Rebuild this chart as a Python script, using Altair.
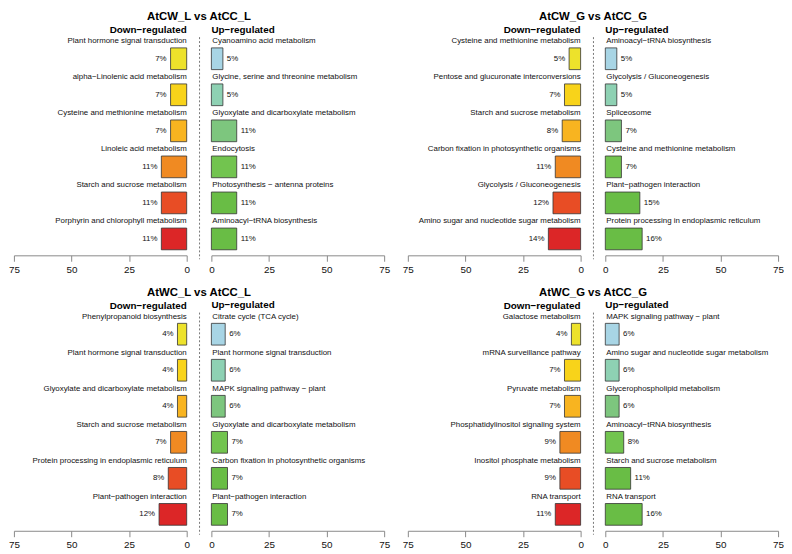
import altair as alt
import pandas as pd

titles = ["AtCW_L vs AtCC_L", "AtCW_G vs AtCC_G", "AtWC_L vs AtCC_L", "AtWC_G vs AtCC_G"]

down_terms_1 = ["Plant hormone signal transduction", "alpha\u2212Linolenic acid metabolism",
                "Cysteine and methionine metabolism", "Linoleic acid metabolism",
                "Starch and sucrose metabolism", "Porphyrin and chlorophyll metabolism"]
down_pct_1 = [7, 7, 7, 11, 11, 11]
up_terms_1 = ["Cyanoamino acid metabolism", "Glycine, serine and threonine metabolism",
              "Glyoxylate and dicarboxylate metabolism", "Endocytosis",
              "Photosynthesis \u2212 antenna proteins", "Aminoacyl\u2212tRNA biosynthesis"]
up_pct_1 = [5, 5, 11, 11, 11, 11]

down_terms_2 = ["Cysteine and methionine metabolism", "Pentose and glucuronate interconversions",
                "Starch and sucrose metabolism", "Carbon fixation in photosynthetic organisms",
                "Glycolysis / Gluconeogenesis", "Amino sugar and nucleotide sugar metabolism"]
down_pct_2 = [5, 7, 8, 11, 12, 14]
up_terms_2 = ["Aminoacyl\u2212tRNA biosynthesis", "Glycolysis / Gluconeogenesis", "Spliceosome",
              "Cysteine and methionine metabolism", "Plant\u2212pathogen interaction",
              "Protein processing in endoplasmic reticulum"]
up_pct_2 = [5, 5, 7, 7, 15, 16]

down_terms_3 = ["Phenylpropanoid biosynthesis", "Plant hormone signal transduction",
                "Glyoxylate and dicarboxylate metabolism", "Starch and sucrose metabolism",
                "Protein processing in endoplasmic reticulum", "Plant\u2212pathogen interaction"]
down_pct_3 = [4, 4, 4, 7, 8, 12]
up_terms_3 = ["Citrate cycle (TCA cycle)", "Plant hormone signal transduction",
              "MAPK signaling pathway \u2212 plant", "Glyoxylate and dicarboxylate metabolism",
              "Carbon fixation in photosynthetic organisms", "Plant\u2212pathogen interaction"]
up_pct_3 = [6, 6, 6, 7, 7, 7]

down_terms_4 = ["Galactose metabolism", "mRNA surveillance pathway", "Pyruvate metabolism",
                "Phosphatidylinositol signaling system", "Inositol phosphate metabolism",
                "RNA transport"]
down_pct_4 = [4, 7, 7, 9, 9, 11]
up_terms_4 = ["MAPK signaling pathway \u2212 plant", "Amino sugar and nucleotide sugar metabolism",
              "Glycerophospholipid metabolism", "Aminoacyl\u2212tRNA biosynthesis",
              "Starch and sucrose metabolism", "RNA transport"]
up_pct_4 = [6, 6, 6, 8, 11, 16]

down_colors = ["#EDE22B", "#F8D31A", "#F8B420", "#F08A22", "#E84D25", "#DC2627"]
up_colors = ["#A8D5E5", "#8ED1B3", "#7DC67E", "#72C44F", "#69BD45", "#69BD45"]

axis_ticks = [0, 25, 50, 75]

W = 175
H = 219
FONT = "Liberation Sans"


def half(terms, pct, side):
    rev = side == "down"
    colors = down_colors if rev else up_colors
    df = pd.DataFrame({
        "term": terms,
        "pct": pct,
        "rank": list(range(len(terms))),
        "color": colors,
        "lab": [f"{p}%" for p in pct],
    })
    xscale = alt.Scale(domain=[0, 75], reverse=rev, nice=False, zero=True)
    xaxis = alt.Axis(values=axis_ticks, title=None, grid=False, domainColor="#888888",
                     tickColor="#888888", tickSize=6, labelFontSize=10, labelColor="#111111",
                     labelFont=FONT, labelPadding=3, offset=2, domainWidth=1, tickWidth=1,
                     labelFlush=False)
    yenc = alt.Y("rank:O", axis=None, scale=alt.Scale(paddingInner=0, paddingOuter=0))
    base = alt.Chart(df)
    bars = base.mark_bar(size=22, yOffset=3.65, stroke="#333333", strokeWidth=0.8).encode(
        x=alt.X("pct:Q", scale=xscale, axis=xaxis),
        y=yenc,
        color=alt.Color("color:N", scale=None),
    )
    names = base.mark_text(align="right" if rev else "left", baseline="middle",
                           dy=-14.25, dx=0 if rev else 1, fontSize=8, font=FONT,
                           color="#111111").encode(
        x=alt.datum(0), y=yenc, text="term:N")
    pcts = base.mark_text(align="right" if rev else "left", baseline="middle",
                          dx=-4 if rev else 4, dy=3.65, fontSize=8, font=FONT,
                          color="#111111").encode(
        x="pct:Q", y=yenc, text="lab:N")
    layers = [bars, names, pcts]
    if not rev:
        sep = alt.Chart(pd.DataFrame({"k": [0]})).mark_rule(
            strokeDash=[2, 2], color="#777777", strokeWidth=1).encode(
            x=alt.value(-12), y=alt.value(0), y2=alt.value(H + 6))
        layers.append(sep)
    ttl = alt.TitleParams("Down\u2212regulated" if rev else "Up\u2212regulated",
                          anchor="end" if rev else "start", frame="group",
                          fontSize=10, font=FONT, fontWeight="bold",
                          offset=2, color="#000000")
    return alt.layer(*layers).properties(width=W, height=H, title=ttl)


def panel(title, dt, dp, ut, up):
    return alt.hconcat(half(dt, dp, "down"), half(ut, up, "up"), spacing=9,
                       title=alt.TitleParams(title, anchor="middle", fontSize=11.5, font=FONT,
                                             fontWeight="bold", offset=2,
                                             color="#000000"))


p1 = panel(titles[0], down_terms_1, down_pct_1, up_terms_1, up_pct_1)
p2 = panel(titles[1], down_terms_2, down_pct_2, up_terms_2, up_pct_2)
p3 = panel(titles[2], down_terms_3, down_pct_3, up_terms_3, up_pct_3)
p4 = panel(titles[3], down_terms_4, down_pct_4, up_terms_4, up_pct_4)

row1 = alt.hconcat(p1, p2, spacing=12)
row2 = alt.hconcat(p3, p4, spacing=12)

chart = alt.vconcat(row1, row2, spacing=13).properties(padding=0).configure(
    font=FONT).configure_view(stroke=None)

chart.save("out.html", embed_options={"renderer": "svg", "actions": False})
